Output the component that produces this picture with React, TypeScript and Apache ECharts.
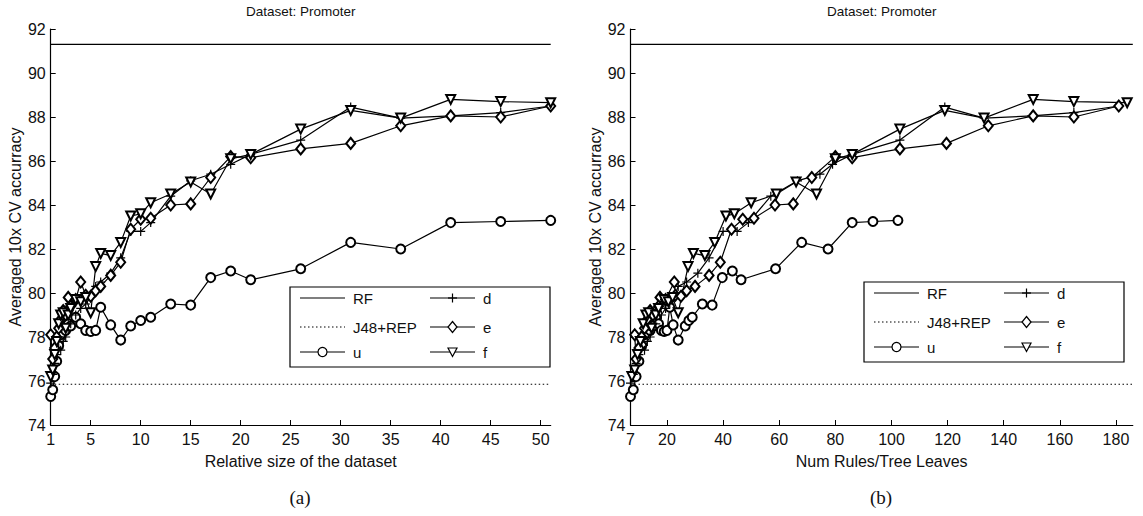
import React, { useEffect, useRef } from 'react';
import * as echarts from 'echarts';

// ---------- data ----------
const relSize = [1, 1.2, 1.4, 1.6, 1.8, 2, 2.25, 2.5, 2.75, 3, 3.5, 4, 4.5, 5, 5.5, 6, 7, 8, 9, 10, 11, 13, 15, 17, 19, 21, 26, 31, 36, 41, 46, 51];

const accD = [75.9, 76.3, 76.8, 77.2, 77.5, 77.4, 77.8, 78.0, 78.3, 78.6, 79.0, 79.3, 79.5, 79.8, 80.3, 80.5, 80.9, 81.6, 82.8, 82.8, 83.2, 84.4, 85.1, 85.4, 85.85, 86.3, 86.95, 88.45, 87.95, 88.05, 88.2, 88.5];
const accE = [78.1, 77.0, 77.5, 78.0, 78.4, 78.8, 79.2, 79.0, 79.8, 79.4, 79.7, 80.5, 79.9, 79.85, 80.1, 80.3, 80.8, 81.4, 82.9, 83.35, 83.4, 84.0, 84.05, 85.25, 86.2, 86.15, 86.55, 86.8, 87.6, 88.05, 88.0, 88.5];
const accF = [76.2, 76.5, 77.2, 77.8, 78.6, 79.0, 79.1, 78.4, 79.0, 79.3, 79.7, 79.6, 79.8, 79.1, 81.2, 81.8, 81.7, 82.3, 83.5, 83.6, 84.1, 84.5, 85.05, 84.5, 86.1, 86.3, 87.45, 88.3, 87.95, 88.8, 88.7, 88.65];
const accU = [75.3, 75.6, 76.2, 76.9, 77.6, 78.1, 78.5, 78.3, 78.6, 78.5, 78.9, 78.6, 78.3, 78.25, 78.3, 79.35, 78.55, 77.86, 78.5, 78.75, 78.9, 79.5, 79.45, 80.7, 81.0, 80.6, 81.1, 82.3, 82.0, 83.2, 83.25, 83.3];

const rulesD = [7, 8, 9, 10, 11, 12, 13, 14, 15, 16, 18, 19.5, 21, 22.5, 24, 27, 31, 35, 40, 45, 49, 57, 66.5, 74.5, 79, 86, 103, 119, 133, 150, 165, 181];
const rulesE = [8.5, 9, 10, 11, 12, 13, 14, 15, 17.5, 17, 19.5, 22.6, 23, 25, 27, 30, 35, 39, 43, 47, 51, 58.5, 65, 71.6, 80, 86, 103, 119.6, 134.5, 150.5, 165, 181];
const rulesF = [7.5, 8.5, 9.5, 10.5, 11.5, 12.5, 13.5, 14.5, 16, 17, 19, 20.5, 22, 24, 27.5, 29.4, 33.5, 37, 41, 44, 50, 59, 66, 73.3, 80, 86, 103, 119, 133, 150.5, 165, 184];
const rulesU = [7, 8, 9, 10, 11, 12, 13, 14, 14.5, 15, 16, 17, 18, 19, 20, 21, 22.2, 24, 26.5, 27.8, 29, 32.6, 36.1, 39.7, 43.3, 46.4, 58.7, 68, 77.4, 86, 93.4, 102.3];

const rfAcc = 91.3;
const j48Acc = 75.85;

const xTicksA = [1, 5, 10, 15, 20, 25, 30, 35, 40, 45, 50];
const xRangeA = [1, 51];
const xTicksB = [7, 20, 40, 60, 80, 100, 120, 140, 160, 180];
const xRangeB = [7, 186];
const yRange = [74, 92];
const yStep = 2;

const titleText = 'Dataset: Promoter';
const xNameA = 'Relative size of the dataset';
const xNameB = 'Num Rules/Tree Leaves';
const yName = 'Averaged 10x CV accurracy';
const legendCol1 = ['RF', 'J48+REP', 'u'];
const legendCol2 = ['d', 'e', 'f'];

// ---------- layout ----------
const FONT = 'Liberation Sans, Arial, Helvetica, sans-serif';
const TXT = '#111';
const LW = 1.2;
const GRIDS = [
  { left: 50.7, top: 29, width: 500, height: 396 },
  { left: 630.5, top: 29, width: 502.3, height: 396 },
];
const PLUS = 'path://M5,0L5,10M0,5L10,5';

const zip = (xs: number[], ys: number[]) => xs.map((x, i) => [x, ys[i]]);

function panelSeries(idx: number, xs: { d: number[]; e: number[]; f: number[]; u: number[] }, range: number[]) {
  const base = { type: 'line', xAxisIndex: idx, yAxisIndex: idx, color: '#000', silent: true };
  const ls = { color: '#000', width: LW };
  return [
    { ...base, name: 'RF', symbol: 'none', data: [[range[0], rfAcc], [range[1], rfAcc]], lineStyle: ls },
    { ...base, name: 'J48+REP', symbol: 'none', data: [[range[0], j48Acc], [range[1], j48Acc]], lineStyle: { ...ls, width: 1.1, type: [1.5, 2.5] } },
    { ...base, name: 'u', symbol: 'emptyCircle', symbolSize: 9, showAllSymbol: true, data: zip(xs.u, accU), lineStyle: ls, itemStyle: { color: '#000', borderWidth: LW } },
    { ...base, name: 'd', symbol: PLUS, symbolSize: 9, showAllSymbol: true, data: zip(xs.d, accD), lineStyle: ls, itemStyle: { color: '#000', borderColor: '#000', borderWidth: LW } },
    { ...base, name: 'e', symbol: 'emptyDiamond', symbolSize: [9, 11], showAllSymbol: true, data: zip(xs.e, accE), lineStyle: ls, itemStyle: { color: '#000', borderWidth: LW } },
    { ...base, name: 'f', symbol: 'emptyTriangle', symbolRotate: 180, symbolSize: 9, showAllSymbol: true, data: zip(xs.f, accF), lineStyle: ls, itemStyle: { color: '#000', borderWidth: LW } },
  ];
}

function xAxisCfg(idx: number, ticks: number[], range: number[], name: string) {
  return {
    type: 'value', gridIndex: idx, min: range[0], max: range[1], name,
    nameLocation: 'middle', nameGap: 28,
    nameTextStyle: { fontFamily: FONT, fontSize: 16, color: TXT },
    axisLine: { show: true, onZero: false, lineStyle: { color: '#000', width: LW } },
    axisTick: { show: true, inside: true, length: 5, customValues: ticks, lineStyle: { color: '#000' } },
    axisLabel: { customValues: ticks, margin: 6, fontFamily: FONT, fontSize: 16, color: TXT },
    splitLine: { show: false },
  };
}

function yAxisCfg(idx: number) {
  return {
    type: 'value', gridIndex: idx, min: yRange[0], max: yRange[1], interval: yStep, name: yName,
    nameLocation: 'middle', nameGap: 27,
    nameTextStyle: { fontFamily: FONT, fontSize: 16, color: TXT },
    axisLine: { show: true, lineStyle: { color: '#000', width: LW } },
    axisTick: { show: true, inside: true, length: 5, lineStyle: { color: '#000' } },
    axisLabel: { margin: 5, fontFamily: FONT, fontSize: 16, color: TXT },
    splitLine: { show: false },
  };
}

function legendGraphic(left: number, top: number) {
  const els: any[] = [];
  const w = 260, h = 80;
  els.push({ type: 'rect', shape: { x: left, y: top, width: w, height: h }, style: { fill: '#fff', stroke: '#000', lineWidth: LW }, z: 100 });
  const rows = [top + 11, top + 40, top + 65];
  const cols = [left + 10, left + 140];
  const stroke = { stroke: '#000', lineWidth: LW, fill: 'none' };
  const marker = (kind: string, cx: number, cy: number) => {
    if (kind === 'u') els.push({ type: 'circle', shape: { cx, cy, r: 4.5 }, style: { fill: '#fff', stroke: '#000', lineWidth: LW }, z: 102 });
    if (kind === 'e') els.push({ type: 'polygon', shape: { points: [[cx, cy - 5.5], [cx + 4.5, cy], [cx, cy + 5.5], [cx - 4.5, cy]] }, style: { fill: '#fff', stroke: '#000', lineWidth: LW }, z: 102 });
    if (kind === 'f') els.push({ type: 'polygon', shape: { points: [[cx - 4.5, cy - 4], [cx + 4.5, cy - 4], [cx, cy + 4.5]] }, style: { fill: '#fff', stroke: '#000', lineWidth: LW }, z: 102 });
    if (kind === 'd') {
      els.push({ type: 'line', shape: { x1: cx - 4.5, y1: cy, x2: cx + 4.5, y2: cy }, style: stroke, z: 102 });
      els.push({ type: 'line', shape: { x1: cx, y1: cy - 4.5, x2: cx, y2: cy + 4.5 }, style: stroke, z: 102 });
    }
  };
  [legendCol1, legendCol2].forEach((col, ci) => {
    col.forEach((name, ri) => {
      const x0 = cols[ci], y = rows[ri];
      const dash = name === 'J48+REP' ? [1.5, 2.5] : null;
      els.push({ type: 'line', shape: { x1: x0, y1: y, x2: x0 + 45, y2: y }, style: { stroke: '#000', lineWidth: dash ? 1.1 : LW, lineDash: dash }, z: 101 });
      marker(name, x0 + 22.5, y);
      els.push({ type: 'text', x: x0 + 53, y, style: { text: name, font: `15px ${FONT}`, fill: TXT, textAlign: 'left', textVerticalAlign: 'middle', align: 'left', verticalAlign: 'middle' }, z: 102 });
    });
  });
  return els;
}

function centeredText(text: string, x: number, y: number, font: string) {
  return { type: 'text', x, y, style: { text, font, fill: TXT, textAlign: 'center', textVerticalAlign: 'middle', align: 'center', verticalAlign: 'middle' }, z: 50 };
}

export default function App() {
  const ref = useRef<HTMLDivElement>(null);
  useEffect(() => {
    const chart = echarts.init(ref.current!, null, { renderer: 'svg' });
    const option: any = {
      animation: false,
      backgroundColor: '#fff',
      grid: GRIDS,
      xAxis: [xAxisCfg(0, xTicksA, xRangeA, xNameA), xAxisCfg(1, xTicksB, xRangeB, xNameB)],
      yAxis: [yAxisCfg(0), yAxisCfg(1)],
      series: [
        ...panelSeries(0, { d: relSize, e: relSize, f: relSize, u: relSize }, xRangeA),
        ...panelSeries(1, { d: rulesD, e: rulesE, f: rulesF, u: rulesU }, xRangeB),
      ],
      graphic: [
        centeredText(titleText, GRIDS[0].left + GRIDS[0].width / 2, 11, `13.5px ${FONT}`),
        centeredText(titleText, GRIDS[1].left + GRIDS[1].width / 2, 11, `13.5px ${FONT}`),
        centeredText('(a)', 300, 497, `19px 'Liberation Serif', 'DejaVu Serif', serif`),
        centeredText('(b)', 881, 497, `19px 'Liberation Serif', 'DejaVu Serif', serif`),
        ...legendGraphic(290, 287),
        ...legendGraphic(864, 282),
      ],
    };
    chart.setOption(option);
    return () => chart.dispose();
  }, []);
  return <div ref={ref} style={{ position: 'fixed', left: 0, top: 0, width: 1143, height: 516, background: '#fff' }} />;
}
